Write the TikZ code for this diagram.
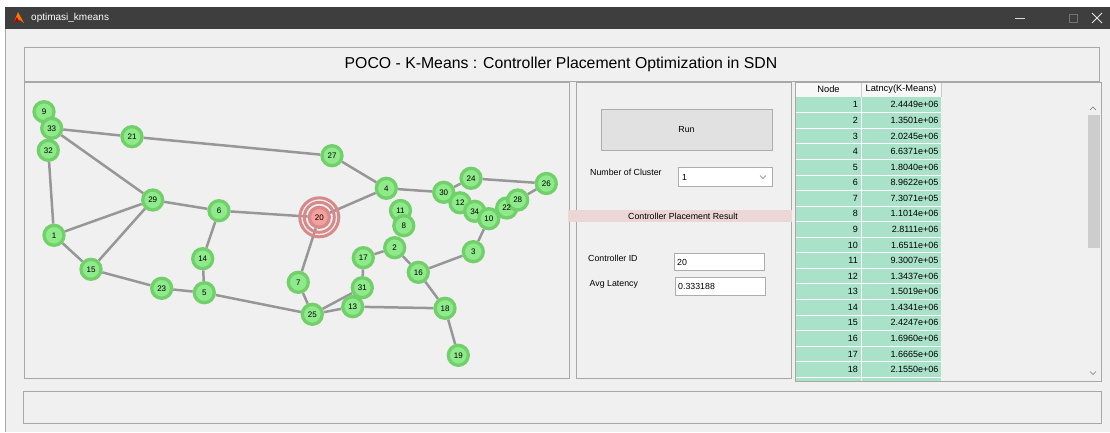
\documentclass[tikz,border=0pt]{standalone}
\usepackage{fontspec}
\setmainfont{Liberation Sans}
\definecolor{winbg}{HTML}{F0F0F0}
\definecolor{titlebar}{HTML}{3E3E3E}
\definecolor{panelborder}{HTML}{A8A8A8}
\definecolor{ngreen}{HTML}{8EEA8A}
\definecolor{nborder}{HTML}{72D06A}
\definecolor{edgegray}{HTML}{979797}
\definecolor{nred}{HTML}{F4A09C}
\definecolor{rborder}{HTML}{D88A8A}
\definecolor{tgreen}{HTML}{A9E2C9}
\definecolor{pinkbar}{HTML}{EDD6D6}
\definecolor{btnfill}{HTML}{E1E1E1}
\definecolor{btnborder}{HTML}{ADADAD}
\definecolor{thumb}{HTML}{CDCDCD}
\pgfdeclarelayer{bg}
\pgfdeclarelayer{edges}
\pgfdeclarelayer{labels}
\pgfsetlayers{bg,edges,main,labels}
\begin{document}
\begin{tikzpicture}[x=1pt,y=-1pt,
  gn/.style={circle,fill=ngreen,draw=nborder,line width=3.3pt,minimum size=20pt,inner sep=0pt},
  rn/.style={gn,fill=nred,draw=rborder},
  nlabel/.style={inner sep=0pt,font=\fontsize{8}{9}\selectfont},
  ring/.style={draw=rborder,line width=3pt},
  edge/.style={draw=edgegray,line width=2.5pt},
  ui/.style={font=\fontsize{8.8}{10}\selectfont,inner sep=0pt},
  tcell/.style={font=\fontsize{9}{10}\selectfont,inner sep=0pt,anchor=east},
  panel/.style={draw=panelborder,line width=0.8pt,fill=winbg},
  field/.style={draw=btnborder,line width=0.6pt,fill=white}]
\useasboundingbox (0,0) rectangle (1110,432);
\begin{pgfonlayer}{bg}
\fill[white] (0,0) rectangle (1110,432);
\fill[titlebar] (5,7) rectangle (1110,29);
\fill[winbg] (5,29) rectangle (1110,432);
\draw[panelborder,line width=0.8pt] (5.4,29) -- (5.4,432);
% title panel
\draw[panel] (24,47) rectangle (1099,81);
% graph panel
\draw[panel] (24,82) rectangle (569,378);
% middle panel
\draw[panel] (576,82) rectangle (791,378);
% bottom panel
\draw[panel] (23,391) rectangle (1101,423);
% table
\draw[panel] (795,82) rectangle (1101,381);
\end{pgfonlayer}
% window icon and title
\fill[orange!90!red] (14,22) -- (18,12) -- (24,23) -- (20,20) -- cycle;
\fill[red!70!black] (14,22) -- (17,17) -- (19,21) -- cycle;
\node[inner sep=0pt,anchor=west,text=white,font=\fontsize{10}{12}\selectfont] (wtitle) at (31,18) {optimasi\_kmeans};
\draw[white!85!black,line width=0.8pt] (1015,18.5) -- (1025,18.5);
\draw[white!45!black,line width=0.6pt] (1069,14) rectangle (1077,22);
\draw[white!90!black,line width=0.9pt] (1092,13) -- (1102,23) (1092,23) -- (1102,13);
% title
\node[inner sep=0pt,font=\fontsize{15.8}{18}\selectfont] (title) at (561,64) {POCO - K-Means : Controller Placement Optimization in SDN};
% ---------------- graph ----------------
\draw[ring] (319.3,217.3) circle (19.5pt);
\draw[ring] (319.3,217.3) circle (15pt);
\node[gn] (n9) at (44,111.7) {};
\node[gn] (n32) at (48.3,150.3) {};
\node[gn] (n33) at (51.7,128.3) {};
\node[gn] (n21) at (132,136.7) {};
\node[gn] (n29) at (152.7,200) {};
\node[gn] (n6) at (219,210.7) {};
\node[gn] (n1) at (54,235.3) {};
\node[gn] (n15) at (91,269.3) {};
\node[gn] (n23) at (161.7,288.3) {};
\node[gn] (n5) at (204.3,292.7) {};
\node[gn] (n14) at (202.7,258.7) {};
\node[gn] (n27) at (332,155.7) {};
\node[gn] (n4) at (386.3,188.3) {};
\node[rn] (n20) at (319.3,217.3) {};
\node[gn] (n11) at (400.5,210.5) {};
\node[gn] (n8) at (403.8,225.7) {};
\node[gn] (n2) at (394.7,247.7) {};
\node[gn] (n30) at (443.7,192.3) {};
\node[gn] (n24) at (471,178.3) {};
\node[gn] (n26) at (546.3,183.5) {};
\node[gn] (n12) at (460,202.8) {};
\node[gn] (n34) at (474.7,211.3) {};
\node[gn] (n10) at (488.8,218.7) {};
\node[gn] (n22) at (506.7,208) {};
\node[gn] (n28) at (517.7,200) {};
\node[gn] (n3) at (473.3,251.7) {};
\node[gn] (n17) at (363.3,257.7) {};
\node[gn] (n16) at (418.3,272.3) {};
\node[gn] (n7) at (298.3,282.3) {};
\node[gn] (n31) at (362.3,287.7) {};
\node[gn] (n13) at (352.7,306.7) {};
\node[gn] (n25) at (312.3,314.3) {};
\node[gn] (n18) at (445,308.3) {};
\node[gn] (n19) at (458.3,355.3) {};
\begin{pgfonlayer}{labels}
\foreach \k in {1,...,34} {
  \node[nlabel] (t\k) at (n\k.center) {\k};
}
\end{pgfonlayer}
\begin{pgfonlayer}{edges}
\draw[edge] (n33) -- (n21);
\draw[edge] (n21) -- (n27);
\draw[edge] (n33) -- (n29);
\draw[edge] (n32) -- (n1);
\draw[edge] (n1) -- (n29);
\draw[edge] (n1) -- (n15);
\draw[edge] (n15) -- (n29);
\draw[edge] (n15) -- (n23);
\draw[edge] (n23) -- (n5);
\draw[edge] (n5) -- (n14);
\draw[edge] (n14) -- (n6);
\draw[edge] (n29) -- (n6);
\draw[edge] (n6) -- (n20);
\draw[edge] (n5) -- (n25);
\draw[edge] (n20) -- (n7);
\draw[edge] (n7) -- (n25);
\draw[edge] (n20) -- (n4);
\draw[edge] (n27) -- (n4);
\draw[edge] (n4) -- (n30);
\draw[edge] (n30) -- (n24);
\draw[edge] (n24) -- (n26);
\draw[edge] (n26) -- (n28);
\draw[edge] (n10) -- (n3);
\draw[edge] (n3) -- (n16);
\draw[edge] (n16) -- (n2);
\draw[edge] (n2) -- (n17);
\draw[edge] (n17) -- (n31);
\draw[edge] (n31) -- (n25);
\draw[edge] (n13) -- (n25);
\draw[edge] (n13) -- (n18);
\draw[edge] (n16) -- (n18);
\draw[edge] (n18) -- (n19);
\end{pgfonlayer}
% ---------------- middle panel ----------------
\draw[fill=btnfill,draw=btnborder,line width=0.8pt] (601,109) rectangle (772,150);
\node[ui] (run) at (686.5,130) {Run};
\node[ui,anchor=west] (ncl) at (590,172.5) {Number of Cluster};
\draw[field] (678,167) rectangle (772,186);
\node[ui,anchor=west] (nclv) at (682,177) {1};
\draw[white!45!black,line width=0.6pt] (760,175.5) -- (763,178.5) -- (766,175.5);
\fill[pinkbar] (568,210) rectangle (792,222);
\node[ui] (cpr) at (683,216) {Controller Placement Result};
\node[ui,anchor=west] (cid) at (588,258.5) {Controller ID};
\draw[field] (674,253) rectangle (764,270.5);
\node[ui,anchor=west] (cidv) at (677,262) {20};
\node[ui,anchor=west] (avg) at (589.5,284) {Avg Latency};
\draw[field] (675,277) rectangle (765,295);
\node[ui,anchor=west] (avgv) at (678,286.5) {0.333188};
% ---------------- table ----------------
\fill[white!97!black] (796,82.5) rectangle (941,97);
\draw[white!80!black,line width=0.6pt] (861,82.5) -- (861,97) (941,82.5) -- (941,97);
\node[ui,font=\fontsize{9.3}{10}\selectfont] (hnode) at (828.5,89.5) {Node};
\node[ui,font=\fontsize{9.3}{10}\selectfont] (hlat) at (901,89.5) {Latncy(K-Means)};
\begin{scope}
\clip (796,97) rectangle (1100,380.5);
\fill[tgreen] (796,97) rectangle (941,392);
\foreach \r in {1,...,19} {
  \draw[white,line width=0.7pt] (796,{97+\r*15.57}) -- (941,{97+\r*15.57});
}
\draw[white,line width=0.7pt] (861,97) -- (861,392);
\end{scope}
\foreach \i/\v in {1/2.4449e+06,2/1.3501e+06,3/2.0245e+06,4/6.6371e+05,5/1.8040e+06,6/8.9622e+05,7/7.3071e+05,8/1.1014e+06,9/2.8111e+06,10/1.6511e+06,11/9.3007e+05,12/1.3437e+06,13/1.5019e+06,14/1.4341e+06,15/2.4247e+06,16/1.6960e+06,17/1.6665e+06,18/2.1550e+06} {
  \node[tcell] (r\i) at (858,{97+(\i-0.5)*15.57}) {\i};
  \node[tcell] (l\i) at (938.5,{97+(\i-0.5)*15.57}) {\v};
}
% scrollbar
\fill[thumb] (1088,115) rectangle (1100,248);
\draw[white!45!black,line width=0.6pt] (1090,110) -- (1093,107) -- (1096,110);
\draw[white!45!black,line width=0.6pt] (1090,371.5) -- (1093,374.5) -- (1096,371.5);
\end{tikzpicture}
\end{document}
